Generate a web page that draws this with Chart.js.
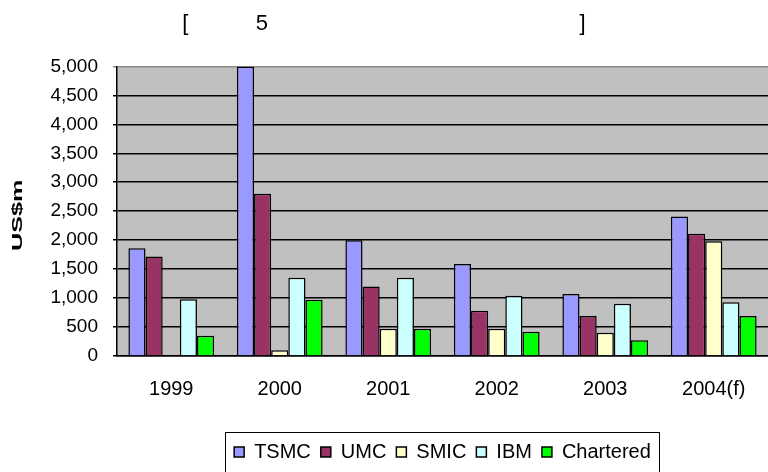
<!DOCTYPE html>
<html>
<head>
<meta charset="utf-8">
<script src="https://cdn.jsdelivr.net/npm/chart.js@4/dist/chart.umd.min.js"></script>
<style>
  html, body { margin: 0; padding: 0; background: #fff; overflow: hidden; }
  #wrap { width: 768px; height: 472px; }
</style>
</head>
<body>
<div id="wrap"><canvas id="capex-chart"></canvas></div>
<script>
// Chart data
const years = ['1999', '2000', '2001', '2002', '2003', '2004(f)'];
const tsmc = [1860, 5000, 2000, 1590, 1070, 2410];
const umc = [1720, 2800, 1200, 780, 690, 2110];
const smic = [0, 100, 470, 470, 400, 1980];
const ibm = [980, 1350, 1350, 1040, 900, 930];
const chartered = [350, 970, 470, 420, 270, 690];

const titleText = '[' + ' '.repeat(11) + '5' + ' '.repeat(51) + ']';
const yTitle = 'US$m';

const FONT = 'Liberation Sans';

// Gray plot background
const plotBackground = {
  id: 'plotBackground',
  beforeDraw(chart) {
    const { ctx, chartArea } = chart;
    ctx.save();
    ctx.fillStyle = '#c0c0c0';
    ctx.fillRect(chartArea.left, chartArea.top, chartArea.right - chartArea.left, chartArea.bottom - chartArea.top);
    ctx.restore();
  },
};

// Rotated, stretched axis title (like the original)
const axisTitle = {
  id: 'axisTitle',
  afterDraw(chart) {
    const { ctx, chartArea } = chart;
    const yc = (chartArea.top + chartArea.bottom) / 2 + 4;
    ctx.save();
    ctx.translate(18, yc);
    ctx.rotate(-Math.PI / 2);
    ctx.scale(1.8, 1);
    ctx.font = 'bold 14px "' + FONT + '"';
    ctx.fillStyle = '#000';
    ctx.textAlign = 'center';
    ctx.textBaseline = 'middle';
    ctx.fillText(yTitle, 0, 0);
    ctx.restore();
  },
};

// Frame around the legend items
const legendFrame = {
  id: 'legendFrame',
  afterDraw(chart) {
    const boxes = chart.legend && chart.legend.legendHitBoxes;
    if (!boxes || !boxes.length) return;
    const left = Math.min(...boxes.map(b => b.left)) - 9;
    const right = Math.max(...boxes.map(b => b.left + b.width)) + 8;
    const top = Math.min(...boxes.map(b => b.top)) - 10;
    const bottom = chart.height + 5;
    const ctx = chart.ctx;
    ctx.save();
    ctx.strokeStyle = '#000';
    ctx.lineWidth = 1;
    ctx.strokeRect(Math.round(left) + 0.5, Math.round(top) + 0.5, Math.round(right - left), bottom - top);
    ctx.restore();
  },
};

function makeSet(label, data, color) {
  return {
    label: label,
    data: data,
    backgroundColor: color,
    borderColor: '#000',
    borderWidth: 1.5,
    categoryPercentage: 0.79,
    barPercentage: 1.0,
  };
}

const ctx = document.getElementById('capex-chart');
new Chart(ctx, {
  type: 'bar',
  data: {
    labels: years,
    datasets: [
      makeSet('TSMC', tsmc, '#9999ff'),
      makeSet('UMC', umc, '#993366'),
      makeSet('SMIC', smic, '#ffffcc'),
      makeSet('IBM', ibm, '#ccffff'),
      makeSet('Chartered', chartered, '#00ff00'),
    ],
  },
  options: {
    responsive: true,
    maintainAspectRatio: false,
    animation: false,
    layout: {
      padding: { left: 0, right: 0, top: 4, bottom: 0 },
    },
    plugins: {
      title: {
        display: true,
        text: titleText,
        color: '#000',
        font: { family: FONT, size: 22, weight: 'normal' },
        padding: { top: 7, bottom: 29 },
      },
      legend: {
        position: 'bottom',
        fullSize: false,
        labels: {
          color: '#000',
          font: { family: FONT, size: 20 },
          boxWidth: 10,
          boxHeight: 10,
          padding: 10,
        },
      },
      tooltip: { enabled: false },
    },
    scales: {
      x: {
        grid: { display: false, drawTicks: false },
        border: { display: true, color: '#000', width: 1.5 },
        ticks: {
          color: '#000',
          font: { family: FONT, size: 20 },
          padding: 21,
          maxRotation: 0,
        },
        afterFit: scale => { scale.height = 76; },
      },
      y: {
        min: 0,
        max: 5000,
        grid: {
          color: c => (c.tick && c.tick.value === 5000 ? '#8a8a8a' : '#000'),
          lineWidth: 1.5,
          tickLength: 4,
        },
        border: { display: true, color: '#000', width: 1.5 },
        ticks: {
          stepSize: 500,
          color: '#000',
          font: { family: FONT, size: 19 },
          padding: 15,
          callback: v => v.toLocaleString('en-US'),
        },
        afterFit: scale => { scale.width = 117; },
      },
    },
  },
  plugins: [plotBackground, axisTitle, legendFrame],
});
</script>
</body>
</html>
